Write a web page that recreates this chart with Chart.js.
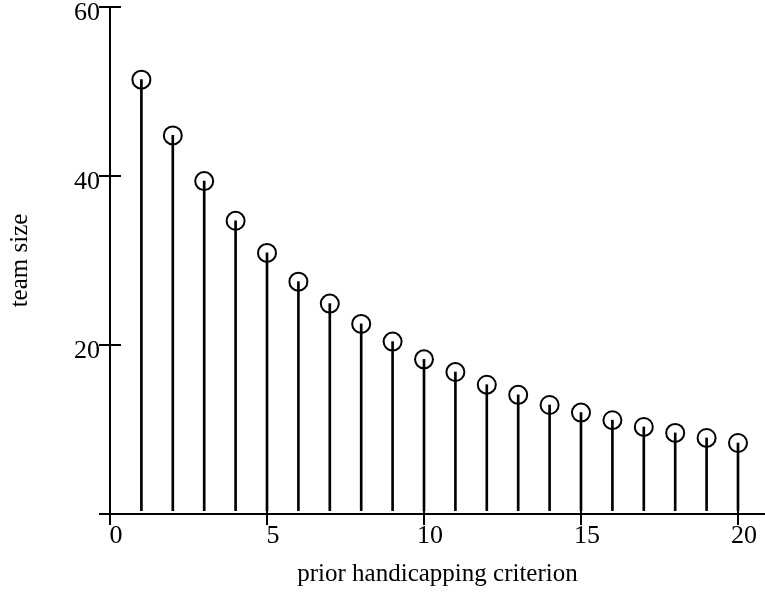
<!DOCTYPE html>
<html>
<head>
<meta charset="utf-8">
<script src="https://cdn.jsdelivr.net/npm/chart.js@4"></script>
<style>
  body { margin: 0; background: #fff; }
  #wrap { width: 765px; height: 592px; }
</style>
</head>
<body>
<div id="wrap"><canvas id="stemChart" width="765" height="592"></canvas></div>
<script>
// values
const criterion = [1, 2, 3, 4, 5, 6, 7, 8, 9, 10, 11, 12, 13, 14, 15, 16, 17, 18, 19, 20];
const teamSize = [51.4, 44.8, 39.4, 34.7, 30.9, 27.5, 24.9, 22.5, 20.4, 18.3,
                  16.8, 15.3, 14.1, 12.9, 12.0, 11.1, 10.3, 9.6, 9.0, 8.4];
const xTicks = [0, 5, 10, 15, 20];
const yTicks = [0, 20, 40, 60];

const points = criterion.map((c, i) => ({ x: c, y: teamSize[i] }));
const serif = 'Liberation Serif, Times New Roman, serif';

// tick marks that cross the axis line
const crossTicks = {
    id: 'crossTicks',
    afterDraw(chart) {
        const c = chart.ctx, xs = chart.scales.x, ys = chart.scales.y;
        const ax = ys.right, ay = xs.top;
        c.save();
        c.strokeStyle = '#000';
        c.lineWidth = 2;
        c.beginPath();
        xTicks.forEach(v => {
            const px = xs.getPixelForValue(v);
            c.moveTo(px, ay - 10);
            c.lineTo(px, ay + 11);
        });
        yTicks.forEach(v => {
            const py = ys.getPixelForValue(v);
            c.moveTo(ax - 11, py);
            c.lineTo(ax + 11, py);
        });
        c.stroke();
        c.restore();
    }
};

const ctx = document.getElementById('stemChart').getContext('2d');
const stemChart = new Chart(ctx, {
    type: 'bar',
    data: {
        datasets: [
            {
                type: 'line',
                label: 'team size',
                data: points,
                showLine: false,
                pointStyle: 'circle',
                pointRadius: 9,
                pointBorderWidth: 2,
                pointBorderColor: '#000',
                pointBackgroundColor: 'rgba(0,0,0,0)',
                order: 1,
                clip: false
            },
            {
                type: 'bar',
                label: 'stems',
                data: points,
                backgroundColor: '#000',
                barThickness: 2,
                base: 0.4,
                order: 2
            }
        ]
    },
    options: {
        responsive: false,
        animation: false,
        layout: { autoPadding: false, padding: { top: 7, right: 0, left: 0, bottom: 0 } },
        plugins: { legend: { display: false }, tooltip: { enabled: false } },
        scales: {
            x: {
                type: 'linear',
                min: 0,
                max: 20.86,
                offset: false,
                afterFit: s => { s.height = 78; s.paddingLeft = 0; s.paddingRight = 0; },
                grid: { display: true, drawOnChartArea: false, drawTicks: false, offset: false },
                border: { display: true, color: '#000', width: 2 },
                ticks: {
                    stepSize: 5,
                    includeBounds: false,
                    color: '#000',
                    padding: 7,
                    labelOffset: 6,
                    maxRotation: 0,
                    font: { family: serif, size: 26 }
                },
                title: {
                    display: true,
                    text: 'prior handicapping criterion',
                    color: '#000',
                    padding: { top: 0, bottom: 3 },
                    font: { family: serif, size: 25 }
                }
            },
            y: {
                min: 0,
                max: 60,
                afterFit: s => { s.width = 110; s.paddingTop = 0; s.paddingBottom = 0; },
                grid: { display: true, drawOnChartArea: false, drawTicks: false },
                border: { display: true, color: '#000', width: 2 },
                ticks: {
                    stepSize: 20,
                    color: '#000',
                    padding: 10,
                    labelOffset: 6,
                    font: { family: serif, size: 26 },
                    callback: v => v === 0 ? '' : v
                },
                title: {
                    display: true,
                    text: 'team size',
                    color: '#000',
                    padding: { top: 5, bottom: 0 },
                    font: { family: serif, size: 25 }
                }
            }
        }
    },
    plugins: [crossTicks]
});
</script>
</body>
</html>
